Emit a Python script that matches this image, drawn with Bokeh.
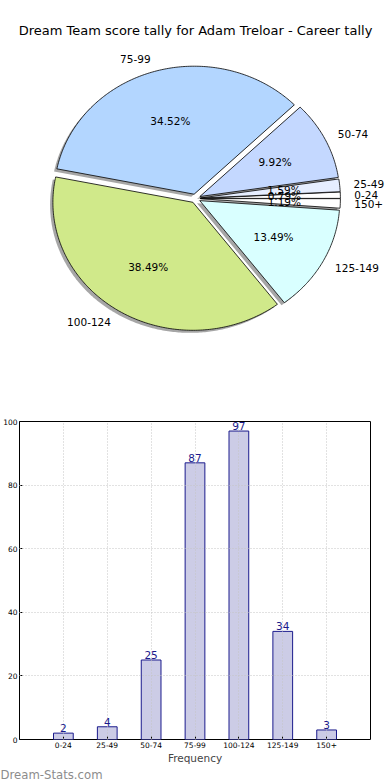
import numpy as np
from bokeh.plotting import figure
from bokeh.models import ColumnDataSource, Range1d, FixedTicker, LabelSet
from bokeh.layouts import column
from bokeh.core.properties import value
from bokeh.embed import file_html
from bokeh.resources import INLINE

# ---- data ----
title = "Dream Team score tally for Adam Treloar - Career tally"
categories = ["0-24", "25-49", "50-74", "75-99", "100-124", "125-149", "150+"]
counts = [2, 4, 25, 87, 97, 34, 3]
pie_colors = ["#ffffff", "#e6eeff", "#c4d8ff", "#b3d6ff", "#d0e98a", "#d9ffff", "#ffffff"]
y_ticks = [0, 20, 40, 60, 80, 100]
x_label = "Frequency"
watermark = "Dream-Stats.com"

FONT = "DejaVu Sans"
W = 390
H = 780

# ---- pie ----
PH = 410
cxp, cyp = 195, 198        # pie centre in figure pixels
rx, ry = 140, 128          # pixels per unit radius (elliptical pie)
p1 = figure(width=W, height=PH, output_backend="svg", toolbar_location=None,
            x_range=Range1d(-cxp / rx, (W - cxp) / rx),
            y_range=Range1d(-(PH - cyp) / ry, cyp / ry),
            x_axis_location=None, y_axis_location=None, min_border=0)
p1.frame_align = False
p1.grid.visible = False
p1.outline_line_color = None

total = float(sum(counts))
frac = np.array(counts) / total
ends = np.cumsum(frac) * 2 * np.pi
starts = ends - frac * 2 * np.pi
explode = 0.035
sh = 0.02

wx, wy, sx, sy = [], [], [], []
lab_x, lab_y, lab_t, lab_al = [], [], [], []
pct_x, pct_y, pct_t = [], [], []
for a0, a1, c, f in zip(starts, ends, categories, frac):
    mid = (a0 + a1) / 2
    ox, oy = explode * np.cos(mid), explode * np.sin(mid)
    t = np.linspace(a0, a1, max(int((a1 - a0) * 80), 4))
    px = np.concatenate([[ox], ox + np.cos(t), [ox]])
    py = np.concatenate([[oy], oy + np.sin(t), [oy]])
    wx.append(list(px)); wy.append(list(py))
    sx.append(list(px - sh)); sy.append(list(py - sh))
    lab_x.append(ox + 1.1 * np.cos(mid)); lab_y.append(oy + 1.1 * np.sin(mid))
    lab_t.append(c); lab_al.append("left" if np.cos(mid) > 0 else "right")
    pct_x.append(ox + 0.6 * np.cos(mid)); pct_y.append(oy + 0.6 * np.sin(mid))
    pct_t.append("%.2f%%" % (f * 100))

p1.patches(sx, sy, fill_color="#4d4d4d", fill_alpha=0.5, line_color=None)
p1.patches(wx, wy, fill_color=pie_colors, line_color="black", line_width=0.8)
p1.text(lab_x, lab_y, text=lab_t, text_align=lab_al, text_baseline="middle",
        text_font=value(FONT), text_font_size="10.5px", text_color="black")
p1.text(pct_x, pct_y, text=pct_t, text_align="center", text_baseline="middle",
        text_font=value(FONT), text_font_size="10.5px", text_color="black")
p1.text([0], [(cyp - 30) / ry], text=[title], text_align="center", text_baseline="middle",
        text_font=value(FONT), text_font_size="13px", text_color="black")

# ---- bars ----
WH = 14                    # watermark strip height
BH = H - PH - WH
xs = list(range(len(categories)))
src = ColumnDataSource(dict(x=xs, top=counts, lab=[str(v) for v in counts]))
p2 = figure(width=W, height=BH, output_backend="svg", toolbar_location=None,
            x_range=Range1d(-1, len(categories)), y_range=Range1d(0, 100),
            min_border_top=11, min_border_left=19, min_border_right=20, min_border_bottom=26)
p2.frame_align = False
p2.vbar(x="x", top="top", width=0.45, source=src, fill_color="#ccccE6",
        line_color="#1a1a8c", line_width=1)
p2.add_layout(LabelSet(x="x", y="top", text="lab", source=src, text_align="center",
                       text_baseline="bottom", y_offset=1, text_font=value(FONT),
                       text_font_size="10.5px", text_color="#1a1a8c"))
p2.xaxis.ticker = FixedTicker(ticks=xs)
p2.xaxis.major_label_overrides = {i: c for i, c in zip(xs, categories)}
p2.yaxis.ticker = FixedTicker(ticks=y_ticks)
for ax in (p2.xaxis, p2.yaxis):
    ax.major_label_text_font = FONT
    ax.major_label_text_font_size = "7.5px"
    ax.major_label_text_color = "black"
    ax.major_tick_in = 3
    ax.major_tick_out = 0
    ax.minor_tick_line_color = None
    ax.axis_line_color = None
    ax.major_label_standoff = 2
    ax.major_tick_line_color = "black"
p2.xaxis.axis_label = x_label
p2.xaxis.axis_label_text_font = FONT
p2.xaxis.axis_label_text_font_size = "10.5px"
p2.xaxis.axis_label_text_font_style = "normal"
p2.xaxis.axis_label_standoff = 1
p2.grid.grid_line_color = "#c4c4c4"
p2.grid.grid_line_dash = "1 2"
p2.grid.level = "annotation"
p2.outline_line_color = "black"
p2.outline_line_width = 1

# ---- watermark strip ----
p3 = figure(width=W, height=WH, output_backend="svg", toolbar_location=None,
            x_range=Range1d(0, W), y_range=Range1d(0, WH),
            x_axis_location=None, y_axis_location=None, min_border=0)
p3.frame_align = False
p3.grid.visible = False
p3.outline_line_color = None
p3.text([0], [6], text=[watermark], text_align="left", text_baseline="alphabetic",
        text_font=value(FONT), text_font_size="11.7px", text_font_style="normal",
        text_color="#8c8c8c")

layout = column(p1, p2, p3, spacing=0)
open("out.html", "w").write(file_html(layout, INLINE))
